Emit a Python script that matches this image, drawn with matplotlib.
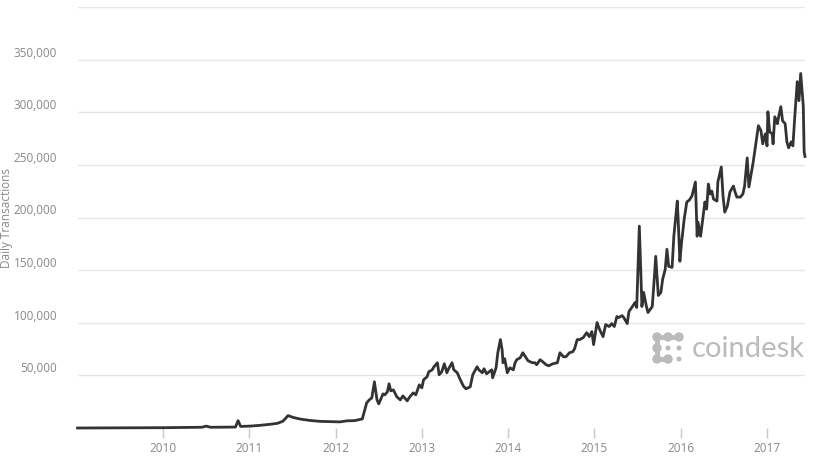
import numpy as np
from matplotlib.figure import Figure
from matplotlib.patches import Circle
from matplotlib.lines import Line2D
import matplotlib.transforms as mtransforms

# daily bitcoin transactions (decimal year, count)
years = [
    2009.01, 2009.50, 2010.00, 2010.30, 2010.45, 2010.50, 2010.55, 2010.84, 2010.87, 2010.90,
    2011.01, 2011.12, 2011.24, 2011.33, 2011.39, 2011.45, 2011.51, 2011.59, 2011.70, 2011.82,
    2011.94, 2012.05, 2012.13, 2012.22, 2012.31, 2012.36, 2012.39, 2012.42, 2012.45, 2012.48,
    2012.50, 2012.55, 2012.57, 2012.60, 2012.62, 2012.64, 2012.67, 2012.71, 2012.75, 2012.78,
    2012.80, 2012.83, 2012.86, 2012.90, 2012.93, 2012.97, 2013.00, 2013.02, 2013.06, 2013.08,
    2013.12, 2013.14, 2013.18, 2013.20, 2013.23, 2013.26, 2013.29, 2013.31, 2013.35, 2013.37,
    2013.41, 2013.44, 2013.48, 2013.51, 2013.56, 2013.59, 2013.64, 2013.66, 2013.70, 2013.72,
    2013.75, 2013.78, 2013.81, 2013.82, 2013.86, 2013.88, 2013.91, 2013.93, 2013.94, 2013.96,
    2013.99, 2014.02, 2014.06, 2014.08, 2014.10, 2014.14, 2014.17, 2014.20, 2014.23, 2014.28,
    2014.31, 2014.33, 2014.37, 2014.40, 2014.44, 2014.47, 2014.52, 2014.57, 2014.60, 2014.64,
    2014.67, 2014.71, 2014.75, 2014.77, 2014.80, 2014.83, 2014.87, 2014.91, 2014.94, 2014.97,
    2014.99, 2015.03, 2015.06, 2015.10, 2015.13, 2015.17, 2015.20, 2015.23, 2015.26, 2015.28,
    2015.32, 2015.34, 2015.38, 2015.40, 2015.44, 2015.47, 2015.49, 2015.52, 2015.55, 2015.57,
    2015.60, 2015.62, 2015.67, 2015.69, 2015.71, 2015.74, 2015.77, 2015.79, 2015.82, 2015.84,
    2015.86, 2015.90, 2015.92, 2015.96, 2015.97, 2015.99, 2016.01, 2016.04, 2016.07, 2016.10,
    2016.13, 2016.17, 2016.19, 2016.20, 2016.23, 2016.26, 2016.28, 2016.30, 2016.32, 2016.34,
    2016.36, 2016.38, 2016.42, 2016.43, 2016.47, 2016.49, 2016.51, 2016.54, 2016.57, 2016.61,
    2016.63, 2016.65, 2016.69, 2016.72, 2016.74, 2016.77, 2016.79, 2016.81, 2016.84, 2016.87,
    2016.90, 2016.93, 2016.95, 2016.98, 2017.00, 2017.01, 2017.03, 2017.06, 2017.07, 2017.09,
    2017.12, 2017.13, 2017.16, 2017.18, 2017.21, 2017.23, 2017.25, 2017.28, 2017.30, 2017.32,
    2017.35, 2017.37, 2017.39, 2017.42, 2017.43, 2017.44,
]
daily_tx = [
    0, 100, 300, 500, 700, 1800, 700, 900, 7000, 1500,
    1800, 2500, 3500, 4500, 6500, 11800, 10000, 8500, 7200, 6300,
    6000, 5800, 6800, 7000, 8600, 23800, 26700, 28600, 43900, 26700,
    22900, 32400, 31500, 34300, 42000, 35300, 36200, 29600, 26700, 30500,
    28600, 25800, 29600, 33400, 31500, 41000, 38200, 45800, 48700, 53400,
    55300, 58200, 62000, 50600, 53400, 61000, 52500, 56300, 62000, 55300,
    52500, 46800, 40000, 37200, 39100, 50600, 58200, 55300, 52500, 56300,
    51500, 53400, 55300, 47700, 57200, 71500, 84000, 74400, 62000, 65800,
    52500, 57200, 55300, 62000, 64900, 66800, 71500, 67700, 63900, 62000,
    62000, 60100, 64900, 63000, 60100, 59100, 61100, 62000, 71500, 67700,
    67700, 71500, 72500, 75300, 84000, 84000, 85900, 90600, 86800, 91600,
    79200, 100200, 93500, 86800, 98300, 96400, 99200, 96400, 105900, 104900,
    106800, 104900, 99200, 110700, 115400, 119200, 114500, 191800, 115400, 128800,
    116400, 109700, 115400, 138300, 163100, 125900, 128800, 141200, 150700, 169800,
    153600, 152600, 182200, 215600, 198400, 158400, 176500, 198400, 214700, 216600,
    220400, 233700, 182200, 195600, 182200, 201300, 214700, 208000, 231800, 222300,
    225100, 217500, 215600, 233700, 248000, 220400, 205100, 210800, 224200, 229900,
    224200, 219400, 219400, 222300, 229900, 256600, 229000, 238500, 252800, 270000,
    287200, 282400, 270000, 279500, 268100, 300500, 281400, 279500, 270000, 295700,
    289100, 293800, 305300, 291900, 289100, 271900, 266200, 271900, 268100, 293800,
    329100, 311000, 336800, 306200, 262400, 258000,
]

ytick_values = [50000, 100000, 150000, 200000, 250000, 300000, 350000]
grid_values = ytick_values + [400000]
xtick_years = [2010, 2011, 2012, 2013, 2014, 2015, 2016, 2017]
xtick_labels = ['2010', '2011', '2012', '2013', '2014', '2015', '2016', '2017']

W, H = 814, 457
fig = Figure(figsize=(W / 100, H / 100), dpi=100)
fig.patch.set_facecolor('white')
font = 'Open Sans'

ax = fig.add_axes([78 / W, 29 / H, 727 / W, 421 / H])
ax.plot(years, daily_tx, color='#333333', lw=2, clip_on=False,
        solid_joinstyle='round', zorder=3)
ax.set_xlim(2009.015, 2017.44)
ax.set_ylim(0, 400000)
for s in ax.spines.values():
    s.set_visible(False)
for v in grid_values:
    ax.axhline(v, color='#e6e6e6', lw=1, zorder=0)

ax.set_yticks(ytick_values)
ax.set_yticklabels([f'{v:,}' for v in ytick_values], va='bottom', family=font)
ax.tick_params(axis='y', length=0, pad=15, labelsize=8.5, labelcolor='#888888')
ax.set_xticks(xtick_years)
ax.set_xticklabels(xtick_labels, family=font)
ax.tick_params(axis='x', length=7, width=1, color='#bccbda', pad=3,
               labelsize=8.5, labelcolor='#888888')

fig.text(7 / W, 1 - 218 / H, 'Daily Transactions', rotation=90, ha='center',
         va='center', fontsize=8.5, color='#888888', family=font)

# coindesk watermark, placed in pixel coordinates
px = mtransforms.Affine2D().scale(1 / W, -1 / H).translate(0, 1) + fig.transFigure
logo_grey = '#bbbbbb'
for (x0, y0), (x1, y1) in [((657, 337), (679, 337)), ((657, 337), (657, 359)),
                           ((657, 359), (668, 359))]:
    fig.add_artist(Line2D([x0, x1], [y0, y1], color=logo_grey, lw=3.5,
                          transform=px, solid_capstyle='round'))
for cx, cy in [(657, 337), (668, 337), (679, 337), (657, 348), (657, 359), (668, 359)]:
    fig.add_artist(Circle((cx, cy), 4, color=logo_grey, transform=px))
for cx, cy in [(668, 348), (679, 348), (679, 359)]:
    fig.add_artist(Circle((cx, cy), 1.8, color=logo_grey, transform=px))
fig.text(692 / W, 1 - 357 / H, 'coindesk', fontsize=21, color=logo_grey,
         va='baseline', ha='left', family='Lato', fontweight='normal')

fig.savefig('out.png', dpi=100)
